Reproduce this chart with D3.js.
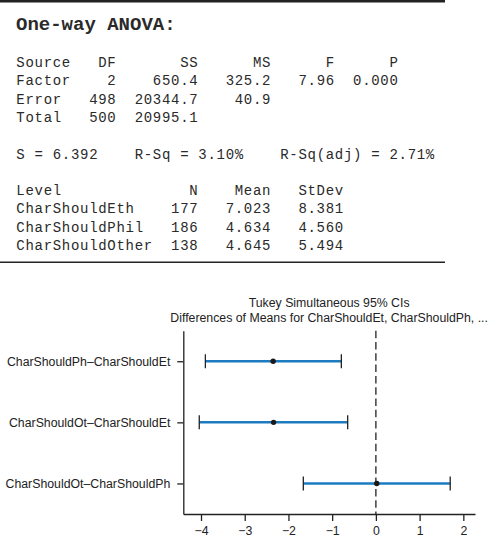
<!DOCTYPE html>
<html>
<head>
<meta charset="utf-8">
<script src="https://cdn.jsdelivr.net/npm/d3@7"></script>
<style>
  body { margin: 0; background: #fff; }
  .mono { font-family: "Liberation Mono", "DejaVu Sans Mono", monospace; fill: #2a2a2a; }
  .sans { font-family: "Liberation Sans", Arial, sans-serif; fill: #222; }
</style>
</head>
<body>
<svg id="chart" width="504" height="542"></svg>
<script>
// ---- session output values ----
const anovaCols = ["Source", "DF", "SS", "MS", "F", "P"];
const anovaSource = ["Factor", "Error", "Total"];
const anovaDF = [2, 498, 500];
const anovaSS = [650.4, 20344.7, 20995.1];
const anovaMS = [325.2, 40.9, null];
const anovaF = [7.96, null, null];
const anovaP = [0.000, null, null];

const fitNames = ["S", "R-Sq", "R-Sq(adj)"];
const fitValues = [6.392, 3.10, 2.71];
const fitUnits = ["", "%", "%"];

const levelCols = ["Level", "N", "Mean", "StDev"];
const levels = ["CharShouldEth", "CharShouldPhil", "CharShouldOther"];
const levelN = [177, 186, 138];
const levelMean = [7.023, 4.634, 4.645];
const levelStDev = [8.381, 4.560, 5.494];

// ---- Tukey intervals ----
const pairs = ["CharShouldPh\u2013CharShouldEt", "CharShouldOt\u2013CharShouldEt", "CharShouldOt\u2013CharShouldPh"];
const diffLower = [-3.90, -4.04, -1.66];
const diffCenter = [-2.35, -2.34, 0.02];
const diffUpper = [-0.79, -0.645, 1.70];
const xTicks = [-4, -3, -2, -1, 0, 1, 2];
const plotTitle = ["Tukey Simultaneous 95% CIs", "Differences of Means for CharShouldEt, CharShouldPh, ..."];

const svg = d3.select("#chart");
svg.append("rect").attr("width", 504).attr("height", 542).attr("fill", "#fff");

//------ session window text --------
const charW = 9.1, x0 = 16;
const monoSize = 14;
const ls = charW - 0.6 * monoSize;  // letter spacing to keep the 9.1px grid
const lineY = i => 30.4 + 18.3 * i;

svg.append("line").attr("x1", 0).attr("x2", 445).attr("y1", 1.2).attr("y2", 1.2)
  .attr("stroke", "#222").attr("stroke-width", 2.5);
svg.append("line").attr("x1", 0).attr("x2", 445).attr("y1", 262.3).attr("y2", 262.3)
  .attr("stroke", "#222").attr("stroke-width", 1.4);

let txt = svg.append("g").attr("class", "mono")
  .style("font-size", monoSize + "px").style("letter-spacing", ls + "px");

svg.append("text").attr("class", "mono").attr("x", x0).attr("y", 29.5)
  .style("font-size", "19px").style("font-weight", "bold").text("One-way ANOVA:");

// col = start column for left text, end column for right aligned text
function cell(s, col, line, anchor) {
  let start = anchor === "start";
  txt.append("text")
    .attr("x", start ? x0 + col * charW + ls / 2 : x0 + col * charW + ls / 2)
    .attr("y", lineY(line))
    .attr("text-anchor", start ? "start" : "end")
    .text(s);
}

let anovaEnds = [0, 11, 20, 28, 35, 42];
let anovaFmt = [null, d3.format("d"), d3.format(".1f"), d3.format(".1f"), d3.format(".2f"), d3.format(".3f")];
anovaCols.forEach((c, j) => cell(c, anovaEnds[j], 2, j === 0 ? "start" : "end"));
anovaSource.forEach((s, i) => {
  let row = [s, anovaDF[i], anovaSS[i], anovaMS[i], anovaF[i], anovaP[i]];
  row.forEach((v, j) => {
    if (v === null) return;
    cell(j === 0 ? v : anovaFmt[j](v), anovaEnds[j], 3 + i, j === 0 ? "start" : "end");
  });
});

// S = ... R-Sq = ... line
let fitStart = [0, 13, 29];
let fitFmt = [d3.format(".3f"), d3.format(".2f"), d3.format(".2f")];
fitNames.forEach((n, i) => cell(n + " = " + fitFmt[i](fitValues[i]) + fitUnits[i], fitStart[i], 7, "start"));

let levelEnds = [0, 20, 28, 36];
levelCols.forEach((c, j) => cell(c, levelEnds[j], 9, j === 0 ? "start" : "end"));
levels.forEach((l, i) => {
  cell(l, 0, 10 + i, "start");
  cell(d3.format("d")(levelN[i]), levelEnds[1], 10 + i);
  cell(d3.format(".3f")(levelMean[i]), levelEnds[2], 10 + i);
  cell(d3.format(".3f")(levelStDev[i]), levelEnds[3], 10 + i);
});

//------ Tukey interval plot --------
const plotLeft = 183.3, plotRight = 475, plotTop = 330.7, plotBottom = 514;
const sansSize = "12.3px";

let x = d3.scaleLinear().domain([-4.405, 2.267]).range([plotLeft, plotRight]);
let y = d3.scalePoint().domain(pairs).range([plotTop, plotBottom]).padding(0.5);

let plot = svg.append("g").attr("class", "sans");

plot.selectAll(".ttl").data(plotTitle).join("text")
  .attr("class", "ttl sans")
  .attr("x", (plotLeft + plotRight) / 2)
  .attr("y", (d, i) => 306.5 + i * 15)
  .attr("text-anchor", "middle")
  .style("font-size", sansSize)
  .text(d => d);

let xAxis = plot.append("g").attr("transform", "translate(0," + plotBottom + ")")
  .call(d3.axisBottom(x).tickValues(xTicks).tickFormat(d3.format("d"))
    .tickSize(7).tickSizeOuter(0).tickPadding(5));
let yAxis = plot.append("g").attr("transform", "translate(" + plotLeft + ",0)")
  .call(d3.axisLeft(y).tickSize(6).tickSizeOuter(0).tickPadding(7));

[xAxis, yAxis].forEach(a => {
  a.selectAll("text").style("font-size", sansSize)
    .style("font-family", "Liberation Sans, Arial, sans-serif").attr("fill", "#222");
  a.selectAll("line, path").attr("stroke", "#222").attr("stroke-width", 1.3);
});

plot.append("line")
  .attr("x1", x(0)).attr("x2", x(0)).attr("y1", plotTop).attr("y2", plotBottom)
  .attr("stroke", "#222").attr("stroke-width", 1.3).attr("stroke-dasharray", "7.5,3.8");

let rows = pairs.map((p, i) => ({ pair: p, lo: diffLower[i], mid: diffCenter[i], hi: diffUpper[i] }));

let ci = plot.selectAll(".ci").data(rows).join("g").attr("class", "ci");
ci.append("line")
  .attr("x1", d => x(d.lo)).attr("x2", d => x(d.hi))
  .attr("y1", d => y(d.pair)).attr("y2", d => y(d.pair))
  .attr("stroke", "#1f7bc0").attr("stroke-width", 2.5);
ci.selectAll(".cap").data(d => [d.lo, d.hi].map(v => ({ v: v, pair: d.pair }))).join("line")
  .attr("class", "cap")
  .attr("x1", d => x(d.v)).attr("x2", d => x(d.v))
  .attr("y1", d => y(d.pair) - 7).attr("y2", d => y(d.pair) + 7)
  .attr("stroke", "#222").attr("stroke-width", 1.3);
ci.append("circle")
  .attr("cx", d => x(d.mid)).attr("cy", d => y(d.pair))
  .attr("r", 2.7).attr("fill", "#1a1a1a");
</script>
</body>
</html>
